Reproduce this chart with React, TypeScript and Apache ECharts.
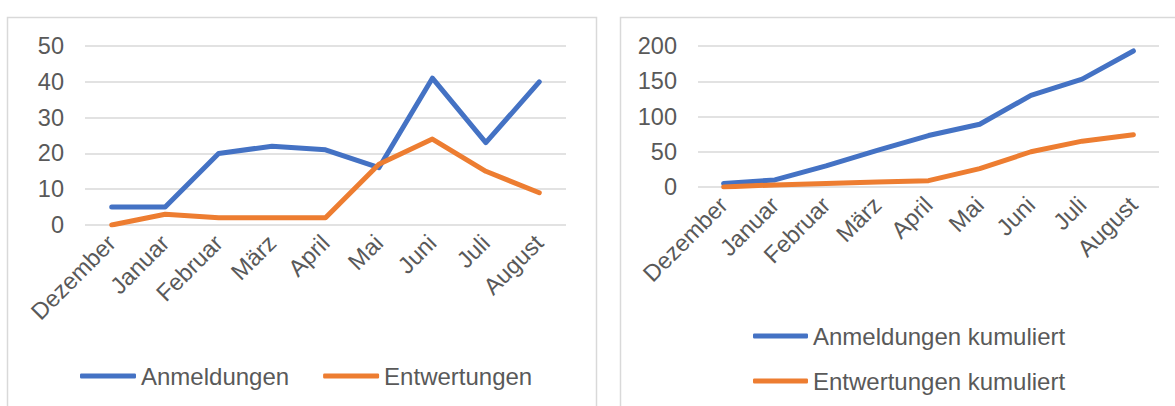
import React, { useEffect, useRef } from "react";
import * as echarts from "echarts";

const months = ["Dezember", "Januar", "Februar", "März", "April", "Mai", "Juni", "Juli", "August"];
const anmeldungen = [5, 5, 20, 22, 21, 16, 41, 23, 40];
const entwertungen = [0, 3, 2, 2, 2, 17, 24, 15, 9];
const anmeldungenKum = [5, 10, 30, 52, 73, 89, 130, 153, 193];
const entwertungenKum = [0, 3, 5, 7, 9, 26, 50, 65, 74];

const BLUE = "#4472C4";
const ORANGE = "#ED7D31";
const TEXT = "#595959";
const GRID = "#D9D9D9";
const FONT = "'Liberation Sans', Arial, sans-serif";

export default function App() {
  const ref = useRef<HTMLDivElement>(null);
  useEffect(() => {
    const chart = echarts.init(ref.current!, null, { renderer: "svg" });
    const xAxisBase = {
      type: "category",
      data: months,
      boundaryGap: true,
      axisLine: { show: false },
      axisTick: { show: false },
      axisLabel: { rotate: 45, color: TEXT, fontSize: 23.5, fontFamily: FONT, margin: 14, interval: 0 },
    };
    const yAxisBase = {
      type: "value",
      axisLine: { show: false },
      axisTick: { show: false },
      splitLine: { lineStyle: { color: GRID, width: 1.5 } },
      axisLabel: { color: TEXT, fontSize: 23.5, fontFamily: FONT, margin: 21 },
    };
    const lineSeries = (name: string, data: number[], color: string, idx: number) => ({
      name,
      type: "line",
      data,
      xAxisIndex: idx,
      yAxisIndex: idx,
      showSymbol: false,
      symbol: "none",
      lineStyle: { color, width: 5, cap: "round", join: "round" },
      itemStyle: { color },
    });
    chart.setOption({
      animation: false,
      backgroundColor: "#ffffff",
      textStyle: { fontFamily: FONT },
      graphic: [
        { type: "rect", shape: { x: 7.5, y: 17.5, width: 589, height: 420 }, style: { fill: "none", stroke: GRID, lineWidth: 1.5 } },
        { type: "rect", shape: { x: 620.5, y: 17.5, width: 600, height: 420 }, style: { fill: "none", stroke: GRID, lineWidth: 1.5 } },
      ],
      grid: [
        { left: 85, top: 46, width: 481, height: 179 },
        { left: 698, top: 46, width: 461, height: 141 },
      ],
      xAxis: [
        { ...xAxisBase, gridIndex: 0 },
        { ...xAxisBase, gridIndex: 1 },
      ],
      yAxis: [
        { ...yAxisBase, gridIndex: 0, min: 0, max: 50, interval: 10 },
        { ...yAxisBase, gridIndex: 1, min: 0, max: 200, interval: 50 },
      ],
      legend: [
        {
          data: ["Anmeldungen", "Entwertungen"],
          left: 80,
          top: 364,
          padding: 0,
          orient: "horizontal",
          icon: "roundRect",
          itemWidth: 56,
          itemHeight: 5,
          itemGap: 34,
          textStyle: { color: TEXT, fontSize: 24, fontFamily: FONT },
        },
        {
          data: ["Anmeldungen kumuliert", "Entwertungen kumuliert"],
          left: 753,
          top: 324,
          padding: 0,
          orient: "vertical",
          icon: "roundRect",
          itemWidth: 55,
          itemHeight: 5,
          itemGap: 21,
          textStyle: { color: TEXT, fontSize: 24, fontFamily: FONT },
        },
      ],
      series: [
        lineSeries("Anmeldungen", anmeldungen, BLUE, 0),
        lineSeries("Entwertungen", entwertungen, ORANGE, 0),
        lineSeries("Anmeldungen kumuliert", anmeldungenKum, BLUE, 1),
        lineSeries("Entwertungen kumuliert", entwertungenKum, ORANGE, 1),
      ],
    });
    return () => chart.dispose();
  }, []);
  return <div ref={ref} style={{ position: "fixed", left: 0, top: 0, width: 1175, height: 406 }} />;
}
